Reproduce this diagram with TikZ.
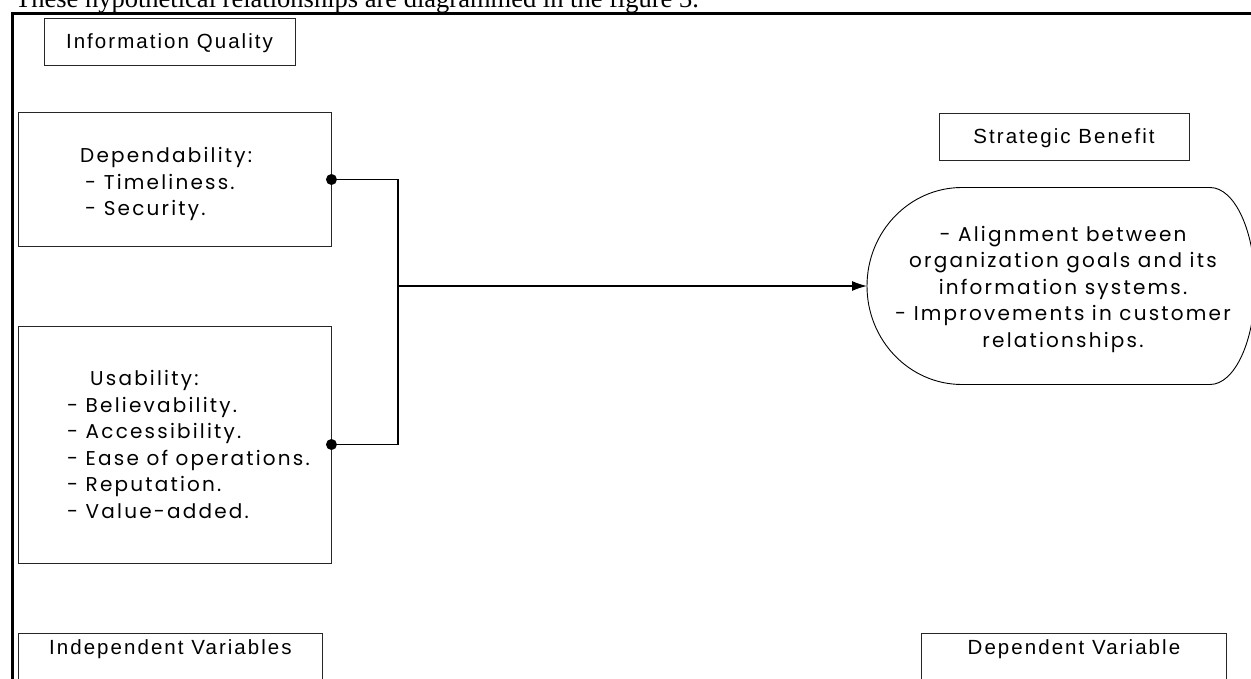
\documentclass[tikz,border=0pt]{standalone}
\usepackage{fontspec}
\setmainfont{Liberation Serif}
\newfontfamily\labelfont[LetterSpace=10]{Liberation Sans}
\newfontfamily\bodyfont[LetterSpace=11]{Poppins}
\usepackage{tikz}
\usetikzlibrary{arrows.meta,calc}

\begin{document}
\begin{tikzpicture}[x=1pt,y=-1pt,
  box/.style={draw=black!85, line width=0.9pt, font=\labelfont\fontsize{20.5}{23}\selectfont,
    text height=14.5pt, text depth=1pt},
  listbox/.style={draw=black!85, line width=0.9pt},
  bodytext/.style={font=\bodyfont\fontsize{20}{26.5}\selectfont, inner sep=0pt},
  link/.style={line width=1.2pt},
  dot/.style={circle, fill, inner sep=0pt, minimum size=11pt}]
\useasboundingbox (0,0) rectangle (1251,679);

% page text and frame
\node[font=\fontsize{26.5}{30}\selectfont, anchor=base west, inner sep=0pt] (caption) at (15,8)
  {These hypothetical relationships are diagrammed in the figure 3.};
\draw[line width=3.5pt] (12.5,700) -- (12.5,13.5) -- (1270,13.5);

% independent side
\node[box, minimum width=251pt, minimum height=47pt] (quality) at (169.5,41.5) {Information Quality};
\node[listbox, minimum width=313pt, minimum height=134pt] (dependability) at (174.5,179.5) {};
\node[bodytext, align=left, anchor=base west] (deptext) at (80,216)
  {Dependability:\\ \hspace*{5pt}- Timeliness.\\ \hspace*{5pt}- Security.};
\node[listbox, minimum width=313pt, minimum height=237pt] (usability) at (174.5,444.5) {};
\node[bodytext, align=left, anchor=base west] (usabtext) at (67,518)
  {\hspace*{23pt}Usability:\\ - Believability.\\ - Accessibility.\\ - Ease of operations.\\
   - Reputation.\\ - Value-added.};
\node[box, anchor=north west, minimum width=304pt, inner ysep=6.5pt, text depth=40pt] (indep) at (18,633)
  {Independent Variables};

% dependent side
\node[box, minimum width=250pt, minimum height=47pt] (strategic) at (1064,136.5) {Strategic Benefit};
\draw[line width=0.9pt] (867,286) arc[start angle=180, end angle=270, x radius=95, y radius=98.5]
  -- (1210,187.5) arc[start angle=270, end angle=450, x radius=45, y radius=98.5]
  -- (962,384.5) arc[start angle=90, end angle=180, x radius=95, y radius=98.5] -- cycle;
\coordinate (benefitedge) at (867,286);
\node[bodytext, align=center, anchor=base] (benefit) at (1063,347)
  {- Alignment between\\ organization goals and its\\ information systems.\\
   - Improvements in customer\\ relationships.};
\node[box, anchor=north west, minimum width=305pt, inner ysep=6.5pt, text depth=40pt] (dep) at (921,633)
  {Dependent Variable};

% connectors
\coordinate (join) at (398,286);
\draw[link] (dependability.east) -| (join) |- (usability.east);
\draw[link, -{Latex[length=15pt,width=10pt]}] (join) -- (benefitedge);
\node[dot] (depdot) at (dependability.east) {};
\node[dot] (usabdot) at (usability.east) {};
\end{tikzpicture}
\end{document}
